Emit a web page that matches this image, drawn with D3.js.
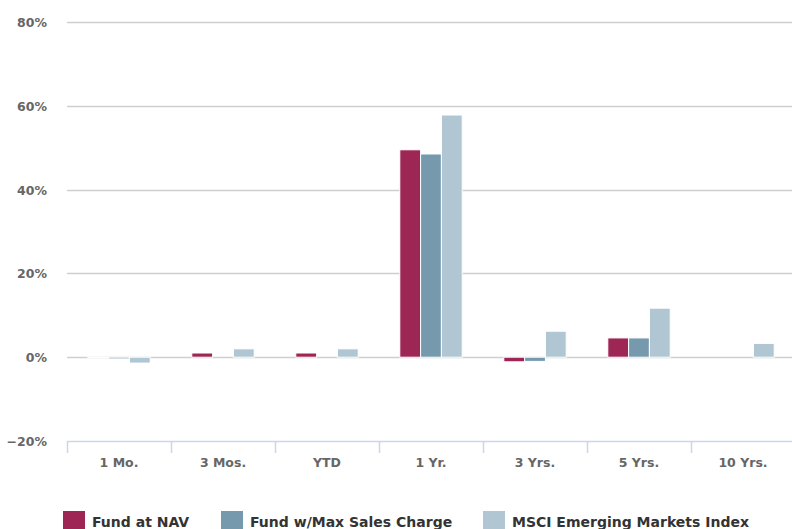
<!DOCTYPE html>
<html>
<head>
<script src="https://d3js.org/d3.v7.min.js"></script>
<style>
  body { margin: 0; background: #fff; }
  text { font-family: "DejaVu Sans", sans-serif; font-weight: bold; }
</style>
</head>
<body>
<svg width="792" height="529"></svg>
<script>
const categories = ["1 Mo.", "3 Mos.", "YTD", "1 Yr.", "3 Yrs.", "5 Yrs.", "10 Yrs."];
const seriesNames = ["Fund at NAV", "Fund w/Max Sales Charge", "MSCI Emerging Markets Index"];
const fundNav = [-0.1, 1.0, 1.0, 49.5, -1.1, 4.6, null];
const fundMax = [-0.4, null, null, 48.5, -1.0, 4.6, null];
const msciIdx = [-1.4, 2.0, 2.0, 57.8, 6.2, 11.7, 3.3];
const yTicks = [-20, 0, 20, 40, 60, 80];
const colors = ["#9e2654", "#7699ae", "#b0c7d3"];

const svg = d3.select("svg");
const allSeries = [fundNav, fundMax, msciIdx];

const x = d3.scaleBand().domain(categories).range([67, 795]);
const xInner = d3.scaleBand().domain(d3.range(3))
  .range([x.bandwidth() * 0.2, x.bandwidth() * 0.8]);
const y = d3.scaleLinear().domain([-20, 80]).range([441, 22]);

// gridlines
svg.append("g").selectAll("line")
  .data(yTicks.filter(d => d > -20))
  .enter().append("line")
  .attr("x1", 67).attr("x2", 795)
  .attr("y1", d => Math.round(y(d)) + 0.5).attr("y2", d => Math.round(y(d)) + 0.5)
  .attr("stroke", "#cfcfcf").attr("stroke-width", 1.5);

// y labels
svg.append("g").selectAll("text")
  .data(yTicks)
  .enter().append("text")
  .attr("x", 47).attr("y", d => y(d) + 5)
  .attr("text-anchor", "end")
  .attr("fill", "#666").style("font-size", "12.5px")
  .text(d => (d < 0 ? "\u2212" + Math.abs(d) : d) + "%");

// bars
const groups = svg.append("g").selectAll("g")
  .data(categories)
  .enter().append("g")
  .attr("transform", d => "translate(" + x(d) + ",0)");

groups.selectAll("rect")
  .data((c, i) => allSeries.map((s, k) => ({ k: k, v: s[i] })).filter(d => d.v !== null))
  .enter().append("rect")
  .attr("x", d => xInner(d.k))
  .attr("width", xInner.bandwidth())
  .attr("y", d => y(Math.max(0, d.v)))
  .attr("height", d => Math.abs(y(d.v) - y(0)))
  .attr("fill", d => colors[d.k])
  .attr("stroke", "#fff").attr("stroke-width", 1);

// x axis
const xAxis = d3.axisBottom(x).tickSize(0).tickPadding(17);
const xg = svg.append("g").attr("transform", "translate(0,441)").call(xAxis);
xg.select(".domain").attr("stroke", "#ccd6eb").attr("stroke-width", 1.5);
xg.selectAll("text").attr("fill", "#666").style("font-size", "12.5px")
  .style("font-family", "DejaVu Sans, sans-serif").style("font-weight", "bold");
xg.selectAll(".xtick")
  .data(categories)
  .enter().append("line")
  .attr("x1", d => Math.round(x(d)) + 0.5).attr("x2", d => Math.round(x(d)) + 0.5)
  .attr("y1", 0).attr("y2", 12)
  .attr("stroke", "#ccd6eb").attr("stroke-width", 1.5);

// legend
const legendX = [63, 221, 483];
const legend = svg.append("g").selectAll("g")
  .data(seriesNames)
  .enter().append("g")
  .attr("transform", (d, i) => "translate(" + legendX[i] + ",511)");
legend.append("rect")
  .attr("width", 22).attr("height", 20)
  .attr("fill", (d, i) => colors[i]);
legend.append("text")
  .attr("x", 29).attr("y", 16)
  .attr("fill", "#333").style("font-size", "14px")
  .text(d => d);
</script>
</body>
</html>
